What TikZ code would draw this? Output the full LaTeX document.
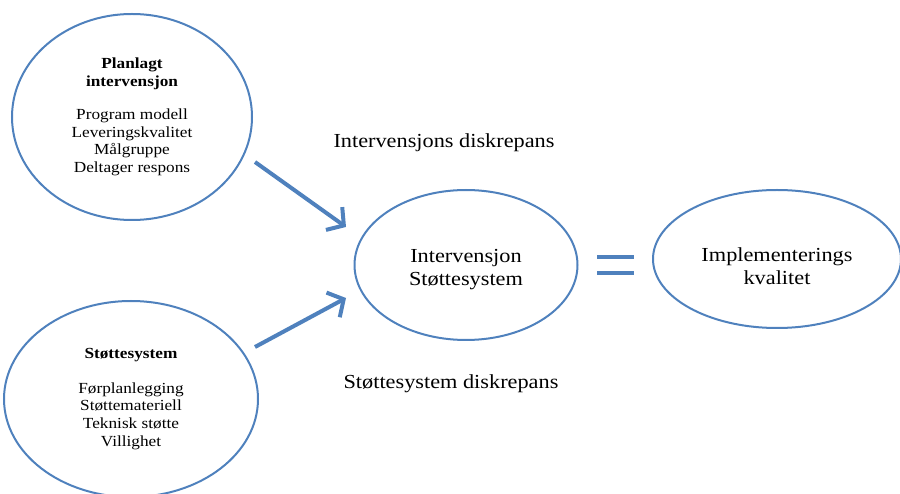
\documentclass[tikz,border=0pt]{standalone}
\usepackage{fontspec}
\setmainfont{Liberation Serif}[FakeStretch=1.12]
\usetikzlibrary{shapes.geometric,arrows.meta}
\definecolor{edgeblue}{HTML}{4F81BD}
\tikzset{
  blob/.style={ellipse, draw=edgeblue, line width=2pt, inner sep=0pt, align=center,
    font=\fontsize{15.4}{17.8}\selectfont},
  bigtext/.style={font=\fontsize{19.9}{23}\selectfont, align=center},
  flow/.style={draw=edgeblue, line width=4pt, -{Straight Barb[length=12pt,width=28pt]}},
  eqbar/.style={draw=edgeblue, line width=4pt},
}
\begin{document}
\begin{tikzpicture}[x=1pt,y=-1pt]
\useasboundingbox (0,0) rectangle (900,494);

\node[blob, minimum width=240pt, minimum height=206pt] (plan) at (132,117)
  {\textbf{Planlagt}\\\textbf{intervensjon}\\[15pt]Program modell\\Leveringskvalitet\\Målgruppe\\Deltager respons};
\node[blob, minimum width=254pt, minimum height=196pt] (support) at (131,399)
  {\textbf{Støttesystem}\\[17pt]Førplanlegging\\Støttemateriell\\Teknisk støtte\\Villighet};
\node[blob, minimum width=223pt, minimum height=150pt] (mid) at (466,265) {};
\node[bigtext] (midtext) at ([yshift=-5pt]mid.center) {Intervensjon\\Støttesystem};
\node[blob, minimum width=248pt, minimum height=138pt] (impl) at (777,259) {};
\node[bigtext] (impltext) at ([yshift=-7pt]impl.center) {Implementerings\\kvalitet};

\node[bigtext] (gap1) at (444,143) {Intervensjons diskrepans};
\node[bigtext] (gap2) at (451,384) {Støttesystem diskrepans};

\coordinate (a1s) at (255,162);
\coordinate (a1e) at (346,227);
\coordinate (a2s) at (255,347);
\coordinate (a2e) at (346,298);
\draw[flow] (a1s) -- (a1e);
\draw[flow] (a2s) -- (a2e);

\coordinate (e1l) at (597,257);
\coordinate (e1r) at (634,257);
\coordinate (e2l) at (597,273);
\coordinate (e2r) at (634,273);
\draw[eqbar] (e1l) -- (e1r);
\draw[eqbar] (e2l) -- (e2r);
\end{tikzpicture}
\end{document}
